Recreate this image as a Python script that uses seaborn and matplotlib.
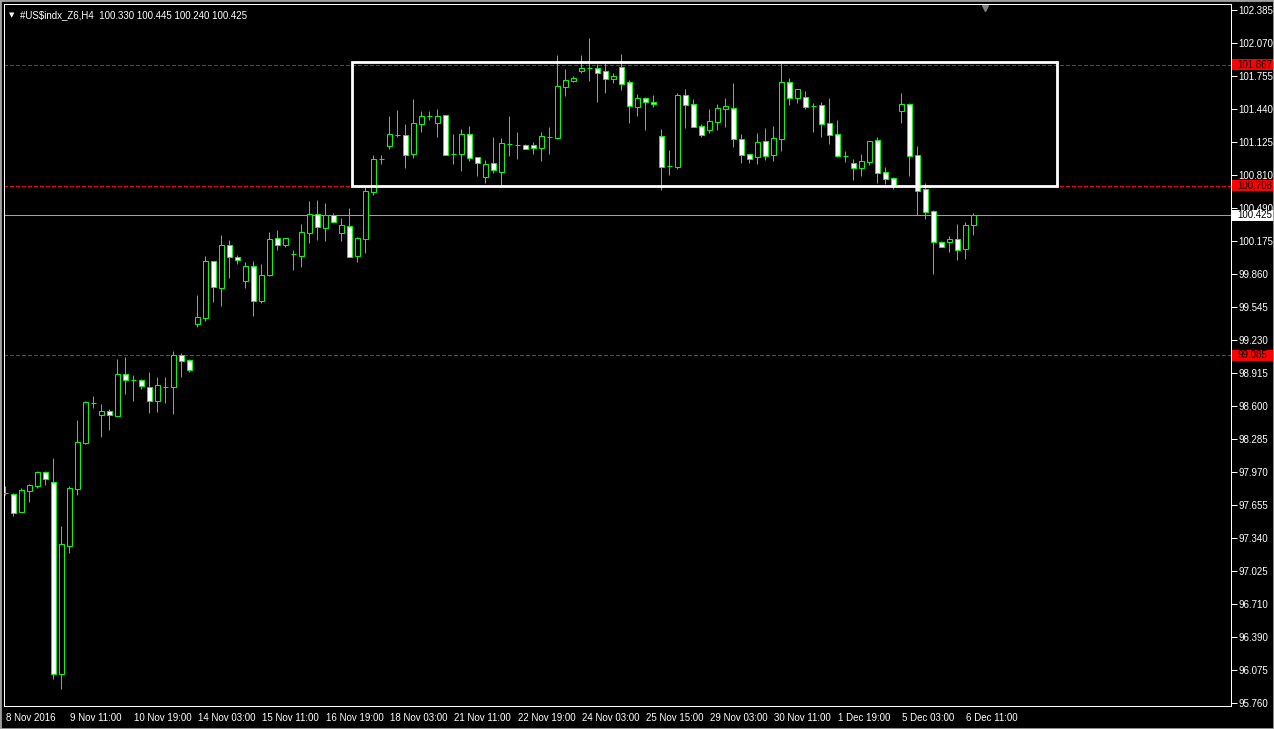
import numpy as np
import pandas as pd
import seaborn as sns
import matplotlib.pyplot as plt
from matplotlib.patches import Rectangle
from matplotlib.transforms import blended_transform_factory, ScaledTranslation

# H4 bars of #US$indx_Z6 (bar 0 = 8 Nov 2016)
open_ = [97.769, 97.756, 97.590, 97.791, 97.838, 97.967, 97.871, 96.034, 97.264, 97.810,
         98.250, 98.632, 98.518, 98.553, 98.508, 98.904, 98.850, 98.849, 98.780, 98.652,
         98.783, 98.785, 99.086, 99.038, 99.388, 99.446, 99.985, 99.733, 100.138, 100.026,
         99.800, 99.937, 99.608, 99.857, 100.205, 100.144, 100.058, 100.039, 100.259, 100.435,
         100.307, 100.426, 100.259, 100.320, 100.039, 100.201, 100.648, 100.967, 101.091, 101.193,
         101.190, 101.015, 101.302, 101.372, 101.311, 101.382, 101.012, 101.015, 101.200, 100.980,
         100.795, 100.923, 100.842, 101.107, 101.098, 101.095, 101.095, 101.072, 101.174, 101.168,
         101.656, 101.713, 101.809, 101.832, 101.832, 101.803, 101.732, 101.841, 101.698, 101.458,
         101.545, 101.506, 101.184, 100.900, 100.890, 101.576, 101.490, 101.277, 101.244, 101.321,
         101.445, 101.449, 101.152, 101.009, 100.980, 101.133, 101.005, 101.158, 101.698, 101.550,
         101.554, 101.474, 101.478, 101.305, 101.203, 100.995, 100.923, 100.881, 100.938, 101.146,
         100.837, 100.779, 101.426, 101.490, 100.999, 100.674, 100.464, 100.170, 100.173, 100.199,
         100.103, 100.330]
high = [97.835, 97.766, 97.813, 97.852, 97.979, 97.979, 98.103, 97.453, 97.835, 98.467,
        98.645, 98.697, 98.620, 98.572, 99.050, 99.070, 98.897, 98.856, 98.926, 98.878,
        98.878, 99.127, 99.108, 99.050, 99.663, 100.036, 99.985, 100.237, 100.186, 100.045,
        99.978, 99.988, 99.959, 100.265, 100.285, 100.205, 100.093, 100.342, 100.562, 100.570,
        100.543, 100.447, 100.399, 100.495, 100.218, 100.699, 101.002, 101.002, 101.375, 101.433,
        101.299, 101.538, 101.423, 101.423, 101.442, 101.382, 101.203, 101.251, 101.277, 100.980,
        100.954, 101.174, 101.165, 101.375, 101.222, 101.104, 101.126, 101.222, 101.270, 101.959,
        101.825, 101.755, 101.959, 102.121, 101.873, 101.885, 101.784, 101.968, 101.717, 101.586,
        101.554, 101.576, 101.251, 101.050, 101.595, 101.634, 101.538, 101.296, 101.442, 101.493,
        101.550, 101.691, 101.203, 101.009, 101.213, 101.260, 101.280, 101.879, 101.739, 101.631,
        101.612, 101.497, 101.506, 101.550, 101.337, 101.040, 100.964, 101.012, 101.136, 101.174,
        100.887, 100.790, 101.595, 101.499, 101.088, 100.731, 100.476, 100.182, 100.227, 100.342,
        100.361, 100.445]
low = [97.749, 97.548, 97.590, 97.682, 97.819, 97.845, 95.989, 95.896, 97.197, 97.752,
       98.240, 98.585, 98.304, 98.371, 98.508, 98.716, 98.649, 98.763, 98.534, 98.543,
       98.630, 98.524, 98.878, 98.929, 99.357, 99.417, 99.599, 99.557, 99.828, 99.962,
       99.733, 99.465, 99.589, 99.844, 100.093, 100.125, 99.902, 99.931, 100.163, 100.189,
       100.179, 100.364, 100.179, 100.029, 99.981, 100.067, 100.620, 100.916, 101.057, 101.171,
       100.881, 100.976, 101.225, 101.337, 101.177, 101.005, 100.916, 100.852, 100.948, 100.804,
       100.737, 100.833, 100.715, 100.993, 100.964, 101.062, 101.015, 100.948, 101.015, 101.158,
       101.569, 101.703, 101.790, 101.713, 101.512, 101.598, 101.694, 101.624, 101.311, 101.375,
       101.244, 101.464, 100.667, 100.814, 100.871, 101.263, 101.273, 101.177, 101.216, 101.244,
       101.273, 101.082, 100.929, 100.929, 100.919, 100.957, 100.948, 101.043, 101.483, 101.502,
       101.445, 101.225, 101.177, 101.110, 100.986, 100.935, 100.763, 100.801, 100.909, 100.737,
       100.725, 100.677, 101.311, 100.801, 100.428, 100.390, 99.864, 100.125, 100.074, 99.998,
       100.007, 100.240]
close = [97.769, 97.580, 97.794, 97.842, 97.967, 97.905, 96.034, 97.278, 97.813, 98.254,
         98.636, 98.632, 98.553, 98.518, 98.904, 98.853, 98.850, 98.795, 98.652, 98.799,
         98.783, 99.086, 99.034, 98.945, 99.453, 99.985, 99.742, 100.138, 100.023, 100.000,
         99.937, 99.608, 99.851, 100.196, 100.144, 100.205, 100.058, 100.262, 100.435, 100.316,
         100.426, 100.364, 100.330, 100.029, 100.205, 100.655, 100.961, 100.967, 101.200, 101.193,
         101.005, 101.305, 101.372, 101.372, 101.372, 101.005, 101.012, 101.200, 100.976, 100.923,
         100.914, 100.856, 101.114, 101.107, 101.098, 101.062, 101.072, 101.181, 101.174, 101.659,
         101.717, 101.736, 101.832, 101.832, 101.790, 101.732, 101.755, 101.684, 101.468, 101.545,
         101.506, 101.487, 100.890, 100.900, 101.576, 101.483, 101.273, 101.197, 101.325, 101.449,
         101.468, 101.158, 101.005, 100.967, 101.124, 100.995, 101.162, 101.698, 101.550, 101.631,
         101.464, 101.474, 101.302, 101.196, 100.995, 100.995, 100.881, 100.942, 101.136, 100.833,
         100.775, 100.708, 101.490, 100.995, 100.661, 100.460, 100.167, 100.125, 100.199, 100.096,
         100.332, 100.425]

# time labels every 8 bars
date_labels = ["8 Nov 2016", "9 Nov 11:00", "10 Nov 19:00", "14 Nov 03:00", "15 Nov 11:00",
               "16 Nov 19:00", "18 Nov 03:00", "21 Nov 11:00", "22 Nov 19:00", "24 Nov 03:00",
               "25 Nov 15:00", "29 Nov 03:00", "30 Nov 11:00", "1 Dec 19:00", "5 Dec 03:00",
               "6 Dec 11:00"]

price_ticks = [102.385, 102.070, 101.755, 101.440, 101.125, 100.810, 100.495, 100.175,
               99.860, 99.545, 99.230, 98.915, 98.600, 98.285, 97.970, 97.655, 97.340,
               97.025, 96.710, 96.395, 96.075, 95.760]
price_tick_labels = ["102.385", "102.070", "101.755", "101.440", "101.125", "100.810",
                     "100.490", "100.175", "99.860", "99.545", "99.230", "98.915", "98.600",
                     "98.285", "97.970", "97.655", "97.340", "97.025", "96.710", "96.390",
                     "96.075", "95.760"]

levels = [101.867, 100.708, 99.085]   # red dashed horizontal lines
last_price = 100.425
box = dict(x0=43.3, x1=131.5, y0=100.706, y1=101.892)   # white rectangle (bar index / price)

df = pd.DataFrame({"open": open_, "high": high, "low": low, "close": close})
df["bar"] = np.arange(len(df))
df["bull"] = df["close"] >= df["open"]

sns.set_theme(style="dark", rc={
    "axes.facecolor": "black",
    "figure.facecolor": "black",
    "axes.edgecolor": "white",
    "text.color": "white",
    "xtick.color": "white",
    "ytick.color": "white",
    "axes.grid": False,
})
plt.rcParams["font.family"] = ["Liberation Sans", "DejaVu Sans"]

fig = plt.figure(figsize=(12.74, 7.29), dpi=100)
ax = fig.add_axes([4 / 1274, 23 / 729, 1227 / 1274, 702 / 729])

green = "#00ff00"
px = 0.72  # one pixel in points

# wicks
ax.vlines(df["bar"], df["low"], df["high"], color=green, linewidth=px, zorder=2)
# bodies: bull = black, bear = white
body_bottom = df[["open", "close"]].min(axis=1)
body_height = (df["close"] - df["open"]).abs()
ax.bar(df["bar"], body_height, bottom=body_bottom, width=0.6,
       color=np.where(df["bull"], "black", "white"), edgecolor=green,
       linewidth=px, zorder=3)

# horizontal levels
for lv in levels:
    ax.axhline(lv, color="#ff0000", linewidth=1.0, linestyle=(0, (2.2, 1.5)),
               antialiased=False, zorder=1)
ax.axhline(last_price, color="#a0a0a0", linewidth=px, antialiased=False, zorder=1)

# rectangle object
ax.add_patch(Rectangle((box["x0"], box["y0"]), box["x1"] - box["x0"], box["y1"] - box["y0"],
                       fill=False, edgecolor="white", linewidth=2, zorder=4))

ax.set_xlim(-0.16, 153.2)
ax.set_ylim(95.731, 102.447)

# y axis on the right
ax.yaxis.tick_right()
ax.set_yticks(price_ticks)
ax.set_yticklabels(price_tick_labels, fontsize=7)
ax.tick_params(axis="y", length=4, width=px, pad=1.5, colors="white", direction="out")

ax.set_xticks(np.arange(0, len(date_labels) * 8, 8))
ax.set_xticklabels(date_labels, fontsize=7, ha="left")
ax.tick_params(axis="x", length=4, width=px, pad=1, colors="white", direction="out")
shift = ScaledTranslation(1 / 100, 0, fig.dpi_scale_trans)
for lab in ax.get_xticklabels():
    lab.set_transform(lab.get_transform() + shift)

for sp in ax.spines.values():
    sp.set_color("white")
    sp.set_linewidth(px)

# price tags at the right edge
tr = blended_transform_factory(ax.transAxes, ax.transData)
tag_w = 43 / 1227
tag_h = 11 * (102.447 - 95.731) / 702
for lv in levels:
    ax.add_patch(Rectangle((1.0 + 1 / 1227, lv - tag_h / 2), tag_w, tag_h, transform=tr,
                           facecolor="red", edgecolor="none", clip_on=False, zorder=6))
    ax.text(1.0 + 6 / 1227, lv, f"{lv:.3f}", transform=tr, fontsize=7, color="black",
            va="center", ha="left", zorder=7, clip_on=False)
ax.add_patch(Rectangle((1.0 + 1 / 1227, last_price - tag_h / 2), tag_w, tag_h, transform=tr,
                       facecolor="white", edgecolor="none", clip_on=False, zorder=6))
ax.text(1.0 + 6 / 1227, last_price, f"{last_price:.3f}", transform=tr, fontsize=7,
        color="black", va="center", ha="left", zorder=7, clip_on=False)

# chart shift marker
ax.plot([122.5], [0.995], marker="v", markersize=5, color="#808080",
        transform=blended_transform_factory(ax.transData, ax.transAxes), clip_on=False)

# header
ax.text(0.004, 0.988, "\u25bc", transform=ax.transAxes, fontsize=5, color="white",
        va="top", ha="left", family="DejaVu Sans")
ax.text(0.013, 0.991, "#US$indx_Z6,H4  100.330 100.445 100.240 100.425",
        transform=ax.transAxes, fontsize=7, color="white", va="top", ha="left")

fig.patches.append(Rectangle((0, 0), 1, 1, transform=fig.transFigure, fill=False,
                             edgecolor="#a0a0a0", linewidth=2))

fig.savefig("out.png", dpi=100, facecolor="black")
